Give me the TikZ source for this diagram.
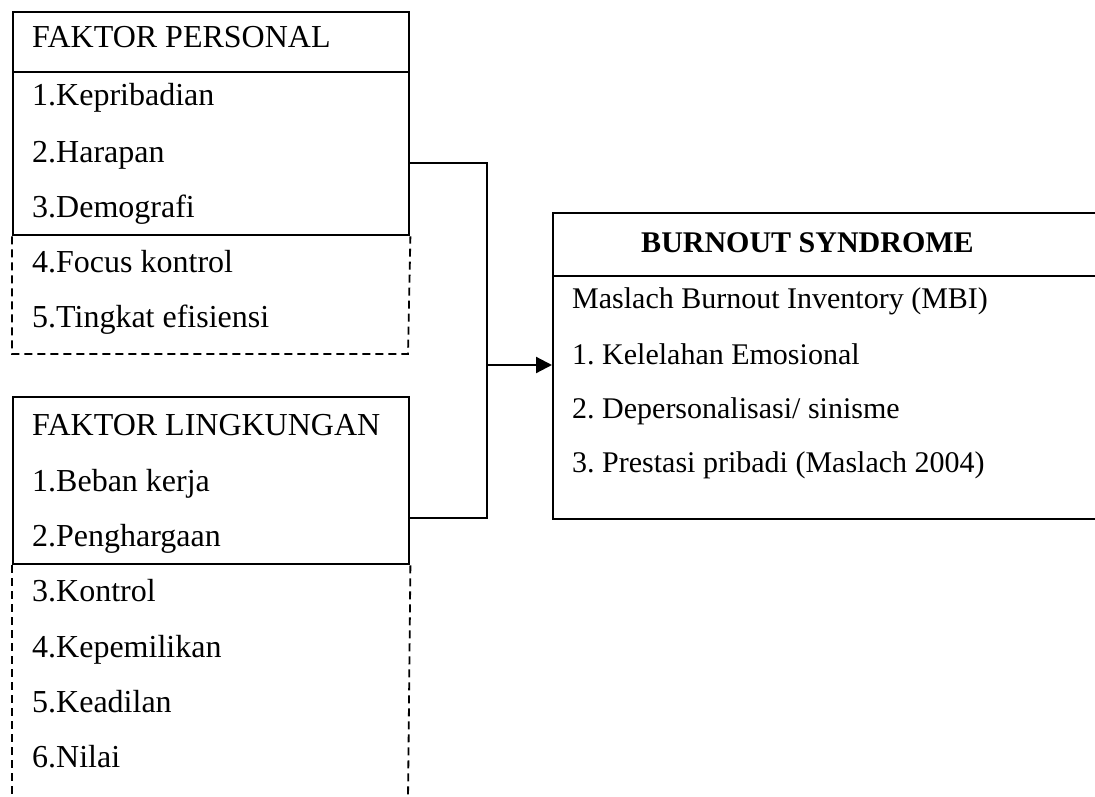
\documentclass[tikz,border=0pt]{standalone}
\usepackage{fontspec}
\setmainfont{Liberation Serif}
\usetikzlibrary{arrows.meta}
\frenchspacing
\tikzset{
  box/.style={draw, line width=2.4pt, inner sep=0pt, anchor=north west},
  dashline/.style={line width=1.8pt, dash pattern=on 8pt off 5pt},
  conn/.style={line width=1.6pt},
  arr/.style={line width=2.2pt, -{Triangle[length=16pt, width=16pt]}},
  lt/.style={anchor=base west, inner sep=0pt, font=\fontsize{32}{36}\selectfont},
  rt/.style={anchor=base west, inner sep=0pt, font=\fontsize{30}{36}\selectfont},
}
\begin{document}
\frenchspacing
\begin{tikzpicture}[x=1pt, y=-1pt]
\useasboundingbox (0,0) rectangle (1095,797);
% boxes
\node[box, minimum width=396pt, minimum height=223pt] (fp) at (12,11) {};
\node[box, minimum width=396pt, minimum height=167pt] (fl) at (12,396) {};
\node[box, minimum width=560pt, minimum height=306pt] (bs) at (552,212) {};
% header separators
\draw[line width=1.9pt] (fp.west |- 0,72) -- (fp.east |- 0,72);
\draw[line width=1.9pt] (bs.west |- 0,276) -- (bs.east |- 0,276);
% dashed extensions
\draw[dashline] (fp.south west) -- (12,354) -- (408,354) -- (fp.south east);
\draw[dashline] (fl.south west) -- (12,800);
\draw[dashline] (fl.south east) -- (408,800);
% connectors
\coordinate (jn) at (487,365);
\draw[conn] (fp.east |- 0,163) -| (jn);
\draw[conn] (fl.east |- 0,518) -| (jn);
\draw[arr] (jn) -- (bs.west |- jn);
% texts left top
\node[lt] (t1) at (32,48) {FAKTOR PERSONAL};
\node[lt] (t2) at (32,106) {1.Kepribadian};
\node[lt] (t3) at (32,162) {2.Harapan};
\node[lt] (t4) at (32,217) {3.Demografi};
\node[lt] (t5) at (32,272) {4.Focus kontrol};
\node[lt] (t6) at (32,327) {5.Tingkat efisiensi};
% texts left bottom
\node[lt] (u1) at (32,435) {FAKTOR LINGKUNGAN};
\node[lt] (u2) at (32,491) {1.Beban kerja};
\node[lt] (u3) at (32,546) {2.Penghargaan};
\node[lt] (u4) at (32,601) {3.Kontrol};
\node[lt] (u5) at (32,657) {4.Kepemilikan};
\node[lt] (u6) at (32,712) {5.Keadilan};
\node[lt] (u7) at (32,767) {6.Nilai};
% right box texts
\node[anchor=base, inner sep=0pt, font=\fontsize{30}{36}\selectfont\bfseries] (bh) at (807.5,252) {BURNOUT SYNDROME};
\node[rt] (r1) at (572,308) {Maslach Burnout Inventory (MBI)};
\node[rt] (r2) at (572,364) {1. Kelelahan Emosional};
\node[rt] (r3) at (572,418) {2. Depersonalisasi/ sinisme};
\node[rt] (r4) at (572,472) {3. Prestasi pribadi (Maslach 2004)};
\end{tikzpicture}
\end{document}
